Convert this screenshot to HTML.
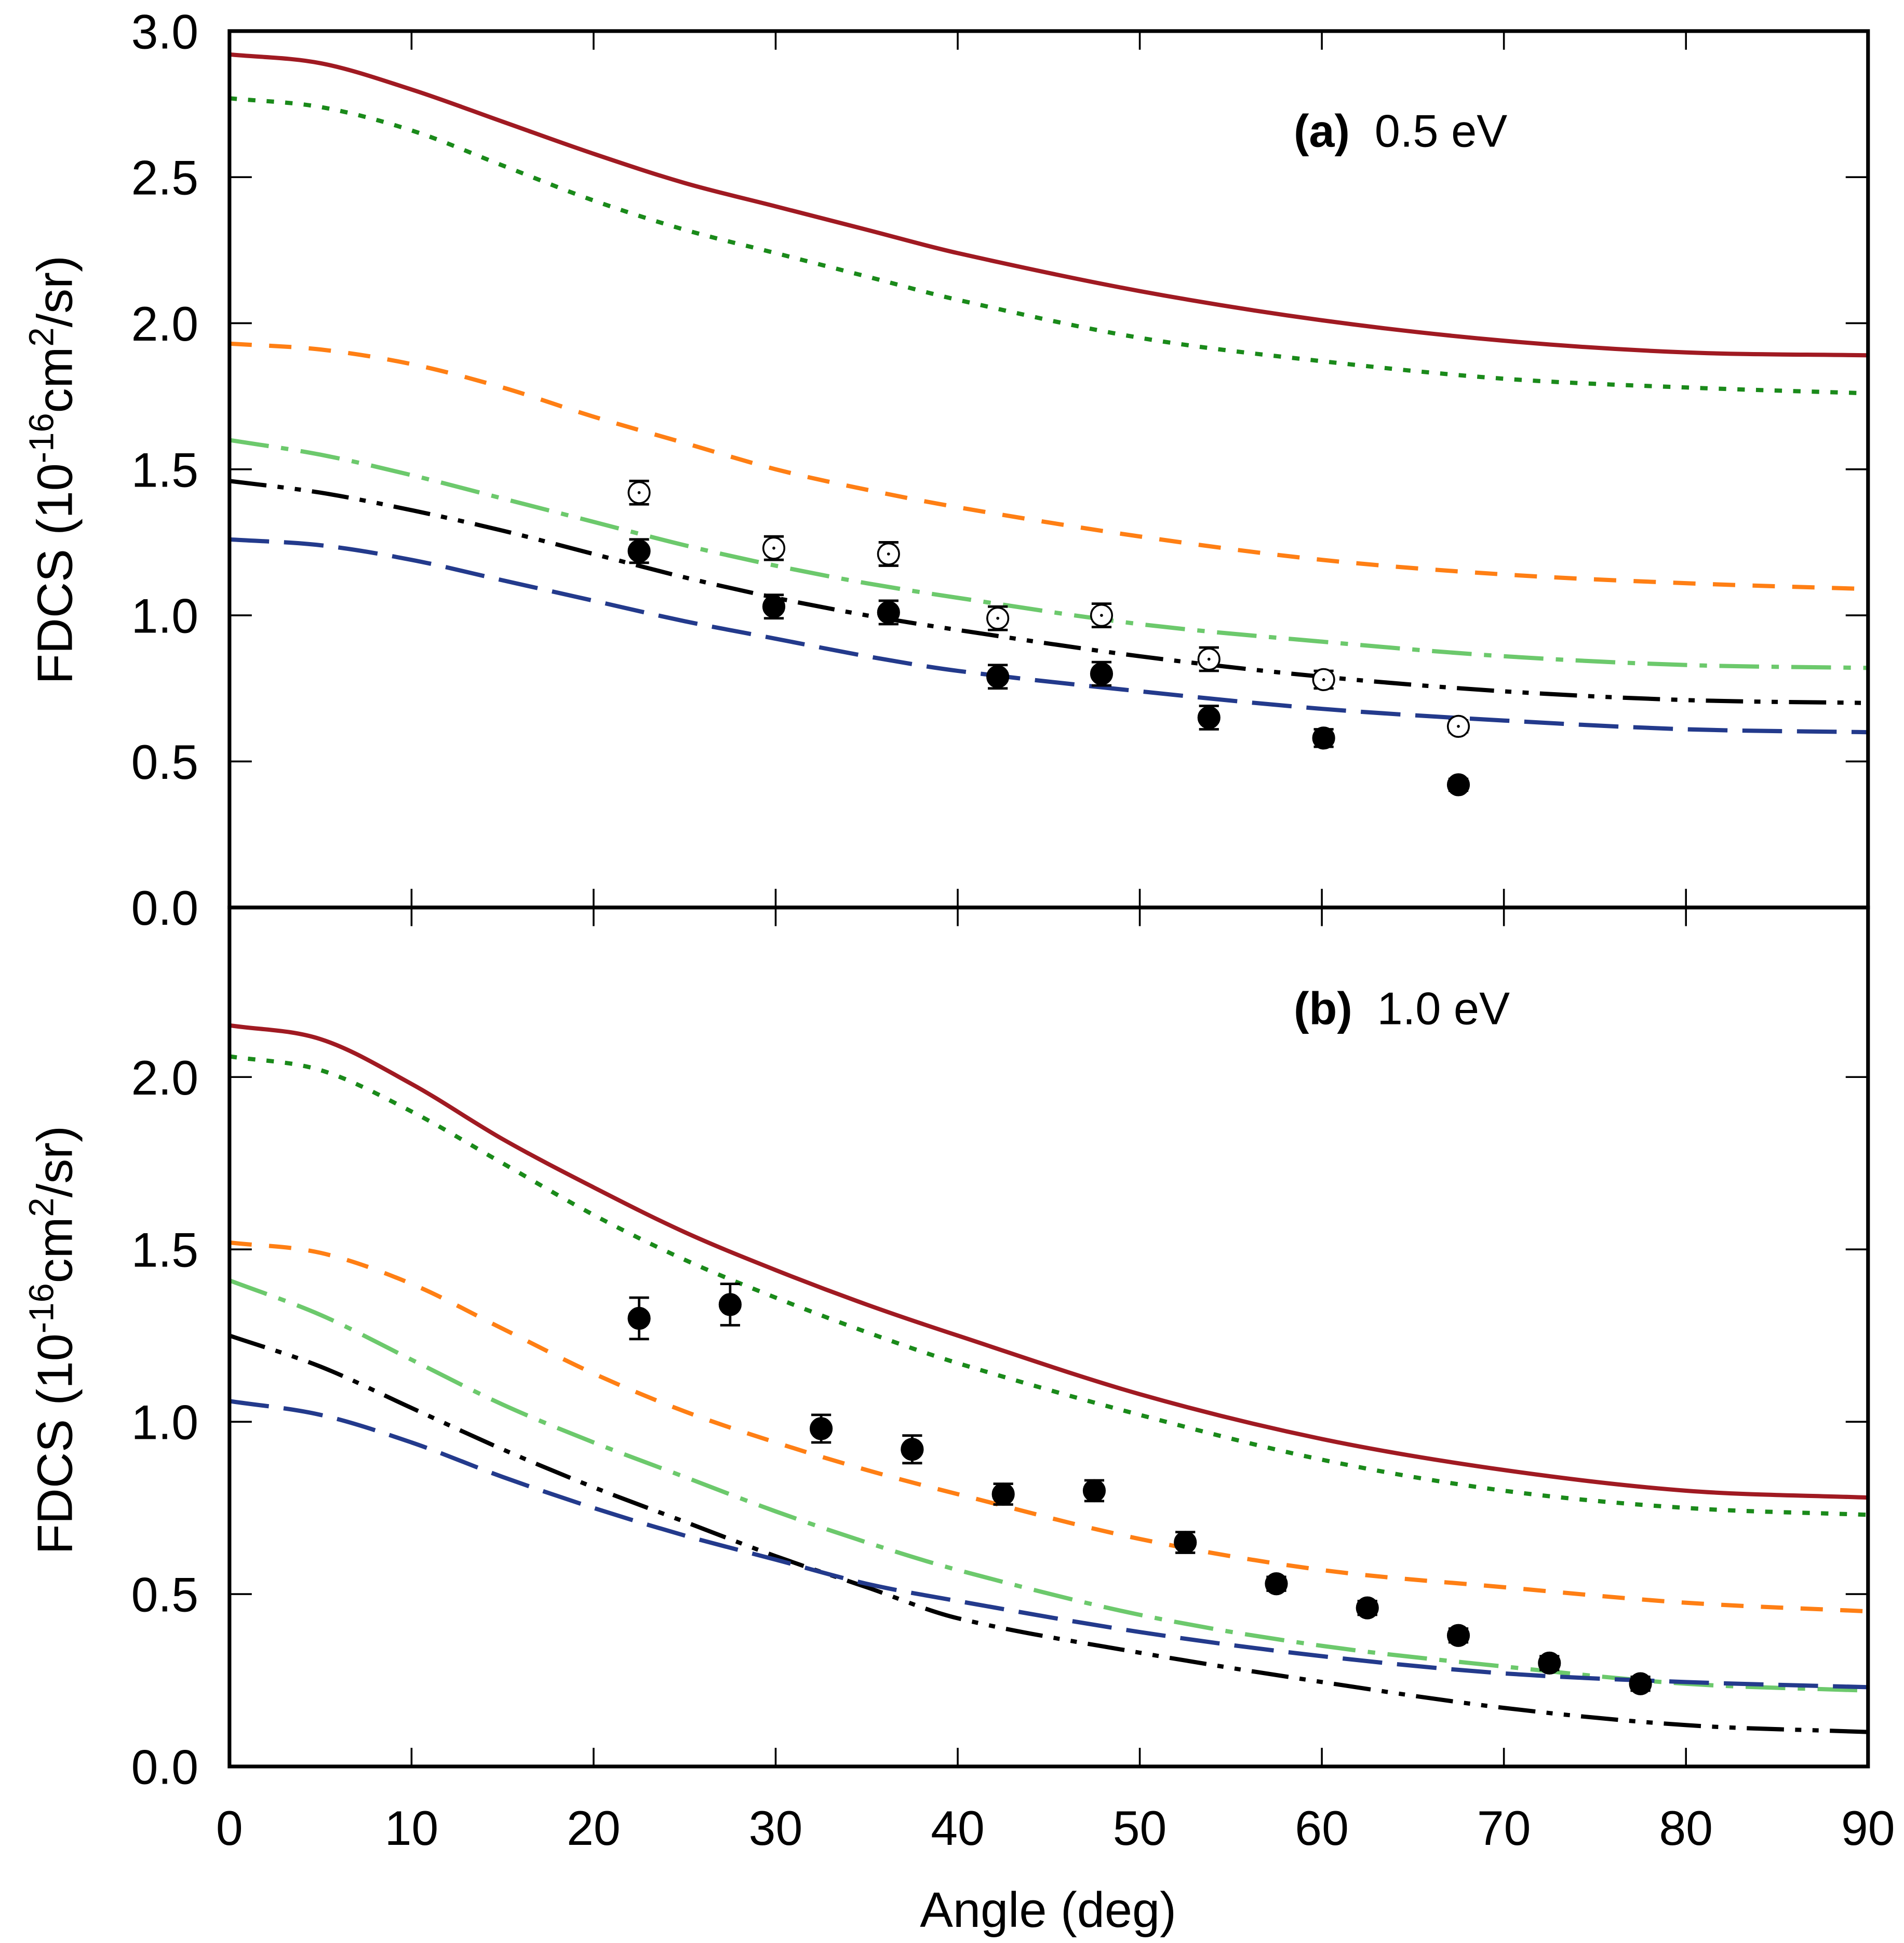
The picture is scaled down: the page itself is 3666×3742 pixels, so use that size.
<!DOCTYPE html>
<html><head><meta charset="utf-8"><style>
html,body{margin:0;padding:0;background:#fff;}
svg{display:block;}
text{font-family:"Liberation Sans",sans-serif;fill:#000;}
</style></head><body>
<svg id="chart" width="3666" height="3742" viewBox="0 0 1535 1563" preserveAspectRatio="none" xmlns="http://www.w3.org/2000/svg">
<g id="layer"></g>
</svg>
<script>
const xTicks = [0,10,20,30,40,50,60,70,80,90];
const angles = [0,5,10,15,20,25,30,35,40,50,60,70,80,90];
const yTicksA = [0.0,0.5,1.0,1.5,2.0,2.5,3.0];
const yTicksB = [0.0,0.5,1.0,1.5,2.0];
// Panel (a) 0.5 eV curves
const aRed    = [2.92,2.89,2.80,2.69,2.58,2.48,2.40,2.32,2.24,2.11,2.01,1.94,1.90,1.89];
const aGreen  = [2.77,2.74,2.66,2.54,2.42,2.32,2.24,2.16,2.08,1.95,1.87,1.81,1.78,1.76];
const aOrange = [1.93,1.91,1.86,1.78,1.68,1.59,1.50,1.43,1.37,1.27,1.19,1.14,1.11,1.09];
const aLight  = [1.60,1.55,1.48,1.40,1.32,1.24,1.17,1.11,1.06,0.97,0.91,0.86,0.83,0.82];
const aBlack  = [1.46,1.42,1.36,1.29,1.21,1.13,1.06,1.00,0.95,0.86,0.79,0.74,0.71,0.70];
const aBlue   = [1.26,1.24,1.19,1.12,1.05,0.98,0.92,0.86,0.81,0.74,0.68,0.64,0.61,0.60];
const aPtX    = [22.5,29.9,36.2,42.2,47.9,53.8,60.1,67.5];
const aFilled = [1.22,1.03,1.01,0.79,0.80,0.65,0.58,0.42];
const aOpen   = [1.42,1.23,1.21,0.99,1.00,0.85,0.78,0.62];
const aErr    = [0.04,0.04,0.04,0.04,0.04,0.04,0.03,0.02];
// Panel (b) 1.0 eV curves
const bRed    = [2.15,2.11,1.98,1.82,1.68,1.55,1.44,1.34,1.25,1.08,0.95,0.86,0.80,0.78];
const bGreen  = [2.06,2.02,1.90,1.75,1.60,1.47,1.36,1.26,1.17,1.02,0.89,0.80,0.75,0.73];
const bOrange = [1.52,1.49,1.40,1.27,1.14,1.03,0.94,0.86,0.79,0.66,0.57,0.52,0.475,0.45];
const bLight  = [1.41,1.31,1.18,1.05,0.94,0.84,0.74,0.65,0.57,0.44,0.35,0.29,0.24,0.22];
const bBlack  = [1.25,1.16,1.04,0.92,0.81,0.71,0.61,0.52,0.43,0.33,0.245,0.17,0.12,0.10];
const bBlue   = [1.06,1.02,0.94,0.84,0.75,0.67,0.60,0.53,0.48,0.39,0.32,0.27,0.245,0.23];
const bPtX    = [22.5,27.5,32.5,37.5,42.5,47.5,52.5,57.5,62.5,67.5,72.5,77.5];
const bFilled = [1.30,1.34,0.98,0.92,0.79,0.80,0.65,0.53,0.46,0.38,0.30,0.24];
const bErr    = [0.06,0.06,0.04,0.04,0.03,0.03,0.03,0.02,0.02,0.02,0.02,0.02];

const NS='http://www.w3.org/2000/svg';
const L=185,R=1506;
const xs=v=>L+(R-L)*v/90;
const yA=v=>730-235*v;
const yB=v=>1421-277.3*v;
const layer=document.getElementById('layer');
function mk(tag,attrs,parent){const e=document.createElementNS(NS,tag);for(const k in attrs)e.setAttribute(k,attrs[k]);(parent||layer).appendChild(e);return e;}
function smooth(xv,yv,ys){
  const p=xv.map((x,i)=>[xs(x),ys(yv[i])]);
  let d='M'+p[0][0]+','+p[0][1];
  for(let i=0;i<p.length-1;i++){
    const p0=p[Math.max(0,i-1)],p1=p[i],p2=p[i+1],p3=p[Math.min(p.length-1,i+2)];
    const h=p2[0]-p1[0];
    const s1=(p2[1]-p0[1])/(p2[0]-p0[0]||1), s2=(p3[1]-p1[1])/(p3[0]-p1[0]||1);
    const c1=[p1[0]+h/3,p1[1]+s1*h/3];
    const c2=[p2[0]-h/3,p2[1]-s2*h/3];
    d+='C'+c1+' '+c2+' '+p2;
  }
  return d;
}
const styles={
 red:{stroke:'#a01a22',dash:''},
 green:{stroke:'#1a8a1a',dash:'6 9'},
 orange:{stroke:'#ff7f14',dash:'18 14'},
 light:{stroke:'#6cc96c',dash:'32 10 6 10'},
 black:{stroke:'#000',dash:'30 9 5 9 5 9'},
 blue:{stroke:'#233a8c',dash:'32 12'}
};
function curve(vals,ys,key,name){
  const e=mk('path',{d:smooth(angles,vals,ys),fill:'none',stroke:styles[key].stroke,'stroke-width':3.4,'stroke-dasharray':styles[key].dash});
  
  
}
function points(xv,yv,ev,ys,open,name){
  xv.forEach((x,i)=>{
    const g=mk('g',{});
    
    
    const cx=xs(x),cy=ys(yv[i]),t=ys(yv[i]+ev[i]),b=ys(yv[i]-ev[i]);
    mk('line',{x1:cx,x2:cx,y1:t,y2:b,stroke:'#000','stroke-width':2},g);
    mk('line',{x1:cx-8,x2:cx+8,y1:t,y2:t,stroke:'#000','stroke-width':2},g);
    mk('line',{x1:cx-8,x2:cx+8,y1:b,y2:b,stroke:'#000','stroke-width':2},g);
    mk('circle',{cx:cx,cy:cy,r:8.5,fill:open?'#fff':'#000',stroke:'#000','stroke-width':1.5},g);
    if(open) mk('circle',{cx:cx,cy:cy,r:1.2,fill:'#000'},g);
  });
}
function panel(top,bot,ys,yt,showX,tag){
  const g=mk('g',{});
  
  
  xTicks.forEach(v=>{
    const x=xs(v);
    mk('line',{x1:x,x2:x,y1:bot,y2:bot-15,stroke:'#000','stroke-width':1.5},g);
    mk('line',{x1:x,x2:x,y1:top,y2:top+15,stroke:'#000','stroke-width':1.5},g);
    if(showX){const t=mk('text',{x:x,y:1484,'font-size':39,'text-anchor':'middle'},g);t.textContent=v;
      
      }
  });
  yt.forEach(v=>{
    const y=ys(v);
    mk('line',{x1:L,x2:L+18,y1:y,y2:y,stroke:'#000','stroke-width':1.5},g);
    mk('line',{x1:R,x2:R-18,y1:y,y2:y,stroke:'#000','stroke-width':1.5},g);
    const t=mk('text',{x:160,y:y+14,'font-size':39,'text-anchor':'end'},g);t.textContent=v.toFixed(1);
    
    
  });
}
panel(25,730,yA,yTicksA,false,'panel-a');
panel(730,1421,yB,yTicksB,true,'panel-b');
curve(aRed,yA,'red','a-curve-red');curve(aGreen,yA,'green','a-curve-green');curve(aOrange,yA,'orange','a-curve-orange');
curve(aLight,yA,'light','a-curve-lightgreen');curve(aBlack,yA,'black','a-curve-black');curve(aBlue,yA,'blue','a-curve-blue');
curve(bRed,yB,'red','b-curve-red');curve(bGreen,yB,'green','b-curve-green');curve(bOrange,yB,'orange','b-curve-orange');
curve(bLight,yB,'light','b-curve-lightgreen');curve(bBlack,yB,'black','b-curve-black');curve(bBlue,yB,'blue','b-curve-blue');
points(aPtX,aOpen,aErr,yA,true,'a-open-point');
points(aPtX,aFilled,aErr,yA,false,'a-filled-point');
points(bPtX,bFilled,bErr,yB,false,'b-filled-point');
</script>
<svg style="position:absolute;left:0;top:0" width="3666" height="3742" viewBox="0 0 1535 1563" preserveAspectRatio="none" xmlns="http://www.w3.org/2000/svg">
<rect x="185" y="25" width="1321" height="705" fill="none" stroke="#000" stroke-width="3"/>
<rect x="185" y="730" width="1321" height="691" fill="none" stroke="#000" stroke-width="3"/>
<text x="1043" y="118" font-size="37" font-family="Liberation Sans, sans-serif"><tspan font-weight="bold">(a)</tspan><tspan dx="20">0.5 eV</tspan></text>
<text x="1043" y="824" font-size="37" font-family="Liberation Sans, sans-serif"><tspan font-weight="bold">(b)</tspan><tspan dx="20">1.0 eV</tspan></text>
<text x="845" y="1550" font-size="40" text-anchor="middle" font-family="Liberation Sans, sans-serif">Angle (deg)</text>
<text transform="translate(58,378) rotate(-90)" font-size="40" text-anchor="middle" font-family="Liberation Sans, sans-serif">FDCS (10<tspan dy="-15" font-size="28">-16</tspan><tspan dy="15">cm</tspan><tspan dy="-15" font-size="28">2</tspan><tspan dy="15">/sr)</tspan></text>
<text transform="translate(58,1078) rotate(-90)" font-size="40" text-anchor="middle" font-family="Liberation Sans, sans-serif">FDCS (10<tspan dy="-15" font-size="28">-16</tspan><tspan dy="15">cm</tspan><tspan dy="-15" font-size="28">2</tspan><tspan dy="15">/sr)</tspan></text>
</svg>
</body></html>
